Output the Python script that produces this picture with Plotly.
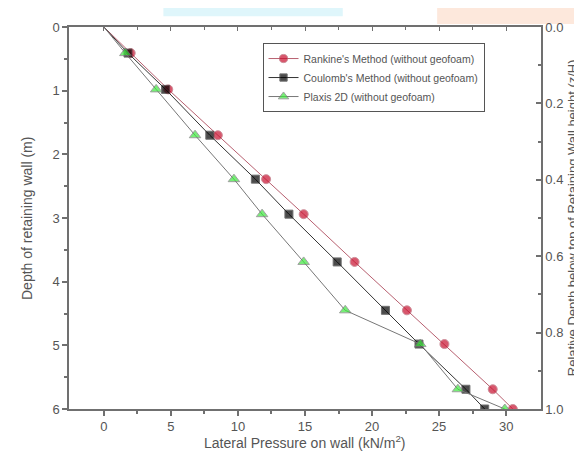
import plotly.graph_objects as go

depth = [0, 0.41, 0.98, 1.70, 2.39, 2.94, 3.69, 4.45, 4.98, 5.69, 6.0]
rankine = [0, 2.0, 4.8, 8.5, 12.1, 14.9, 18.7, 22.6, 25.4, 29.0, 30.5]
coulomb = [0, 1.8, 4.6, 7.9, 11.3, 13.8, 17.4, 21.0, 23.5, 27.0, 28.4]
plaxis = [0, 1.6, 3.9, 6.8, 9.7, 11.8, 14.9, 18.0, 23.6, 26.4, 29.9]

names = ["Rankine's Method (without geofoam)",
         "Coulomb's Method (without geofoam)",
         "Plaxis 2D (without geofoam)"]

FONT = "Liberation Sans, Arial, sans-serif"
TXT = "#555555"
AX = "#707070"

def sizes(n, s):
    return [0] + [s] * (n - 1)

fig = go.Figure()
fig.add_trace(go.Scatter(x=rankine, y=depth, name=names[0], mode="lines+markers",
                         line=dict(color="#b86070", width=1),
                         marker=dict(symbol="circle", color="#c8102e", size=sizes(len(depth), 9))))
fig.add_trace(go.Scatter(x=coulomb, y=depth, name=names[1], mode="lines+markers",
                         line=dict(color="#333333", width=1),
                         marker=dict(symbol="square", color="#000000", size=sizes(len(depth), 8))))
fig.add_trace(go.Scatter(x=plaxis, y=depth, name=names[2], mode="lines+markers",
                         line=dict(color="#777777", width=1),
                         marker=dict(symbol="triangle-up", color="#3ee83e", size=sizes(len(depth), 10))))
# dummy traces to activate secondary axes
fig.add_trace(go.Scatter(x=[None], y=[None], yaxis="y2", showlegend=False, hoverinfo="skip"))
fig.add_trace(go.Scatter(x=[None], y=[None], xaxis="x2", showlegend=False, hoverinfo="skip"))

xr = [-2.6, 32.6]
fig.update_layout(
    width=582, height=452,
    margin=dict(l=61, r=49, t=19, b=51),
    paper_bgcolor="white", plot_bgcolor="white",
    font=dict(family=FONT, color=TXT, size=13),
    showlegend=True,
    legend=dict(x=0.41, y=0.958, xanchor="left", yanchor="top",
                bgcolor="white", bordercolor="#555555", borderwidth=1,
                font=dict(size=10.5, color=TXT), tracegroupgap=0, itemwidth=30),
    xaxis=dict(range=xr, tickvals=[0, 5, 10, 15, 20, 25, 30], automargin=False,
               ticks="outside", ticklen=5, tickcolor=AX, tickwidth=1.5,
               minor=dict(tickvals=[2.5, 7.5, 12.5, 17.5, 22.5, 27.5], ticks="outside",
                          ticklen=3, tickcolor=AX, showgrid=False),
               showline=True, linecolor=AX, linewidth=1.5, showgrid=False, zeroline=False,
               tickfont=dict(size=13, color=TXT)),
    xaxis2=dict(range=xr, overlaying="x", side="top", anchor="y", automargin=False,
                tickvals=[0, 5, 10, 15, 20, 25, 30], showticklabels=False,
                ticks="inside", ticklen=4, tickcolor=AX,
                minor=dict(tickvals=[2.5, 7.5, 12.5, 17.5, 22.5, 27.5], ticks="inside",
                           ticklen=3, tickcolor=AX),
                showline=True, linecolor=AX, linewidth=1.5, showgrid=False, zeroline=False),
    yaxis=dict(range=[6, 0], tickvals=[0, 1, 2, 3, 4, 5, 6], automargin=False,
               ticks="outside", ticklen=5, tickcolor=AX, tickwidth=1.5,
               minor=dict(tickvals=[0.5, 1.5, 2.5, 3.5, 4.5, 5.5], ticks="outside",
                          ticklen=3, tickcolor=AX, showgrid=False),
               showline=True, linecolor=AX, linewidth=1.5, showgrid=False, zeroline=False,
               tickfont=dict(size=13, color=TXT)),
    yaxis2=dict(range=[1.0, 0.0], overlaying="y", side="right", anchor="x", automargin=False,
                tickvals=[0, 0.2, 0.4, 0.6, 0.8, 1.0], tickformat=".1f",
                ticks="inside", ticklen=5, tickcolor=AX, tickwidth=1.5,
                minor=dict(tickvals=[0.1, 0.3, 0.5, 0.7, 0.9], ticks="inside",
                           ticklen=3, tickcolor=AX),
                showline=True, linecolor=AX, linewidth=1.5, showgrid=False, zeroline=False,
                tickfont=dict(size=13, color=TXT)),
    annotations=[
        dict(text="Depth of retaining wall (m)", xref="paper", yref="paper",
             x=-0.089, y=0.5, xanchor="center", yanchor="middle", textangle=-90,
             showarrow=False, font=dict(size=14, color=TXT)),
        dict(text="Relative Depth below top of Retaining Wall height (z/H)",
             xref="paper", yref="paper", x=1.066, y=0.5, xanchor="center",
             yanchor="middle", textangle=-90, showarrow=False,
             font=dict(size=13, color=TXT)),
        dict(text="Lateral Pressure on wall (kN/m<sup>2</sup>)", xref="paper", yref="paper",
             x=0.5, y=-0.087, xanchor="center", yanchor="middle", showarrow=False,
             font=dict(size=14, color=TXT)),
    ],
    shapes=[
        dict(type="rect", xref="paper", yref="paper", x0=0.2, x1=0.58, y0=1.028, y1=1.05,
             fillcolor="#dff6fb", line=dict(width=0), layer="below"),
        dict(type="rect", xref="paper", yref="paper", x0=0.78, x1=1.11, y0=1.008, y1=1.05,
             fillcolor="#fde8dc", line=dict(width=0), layer="below"),
    ],
)

fig.write_html("out.html")
